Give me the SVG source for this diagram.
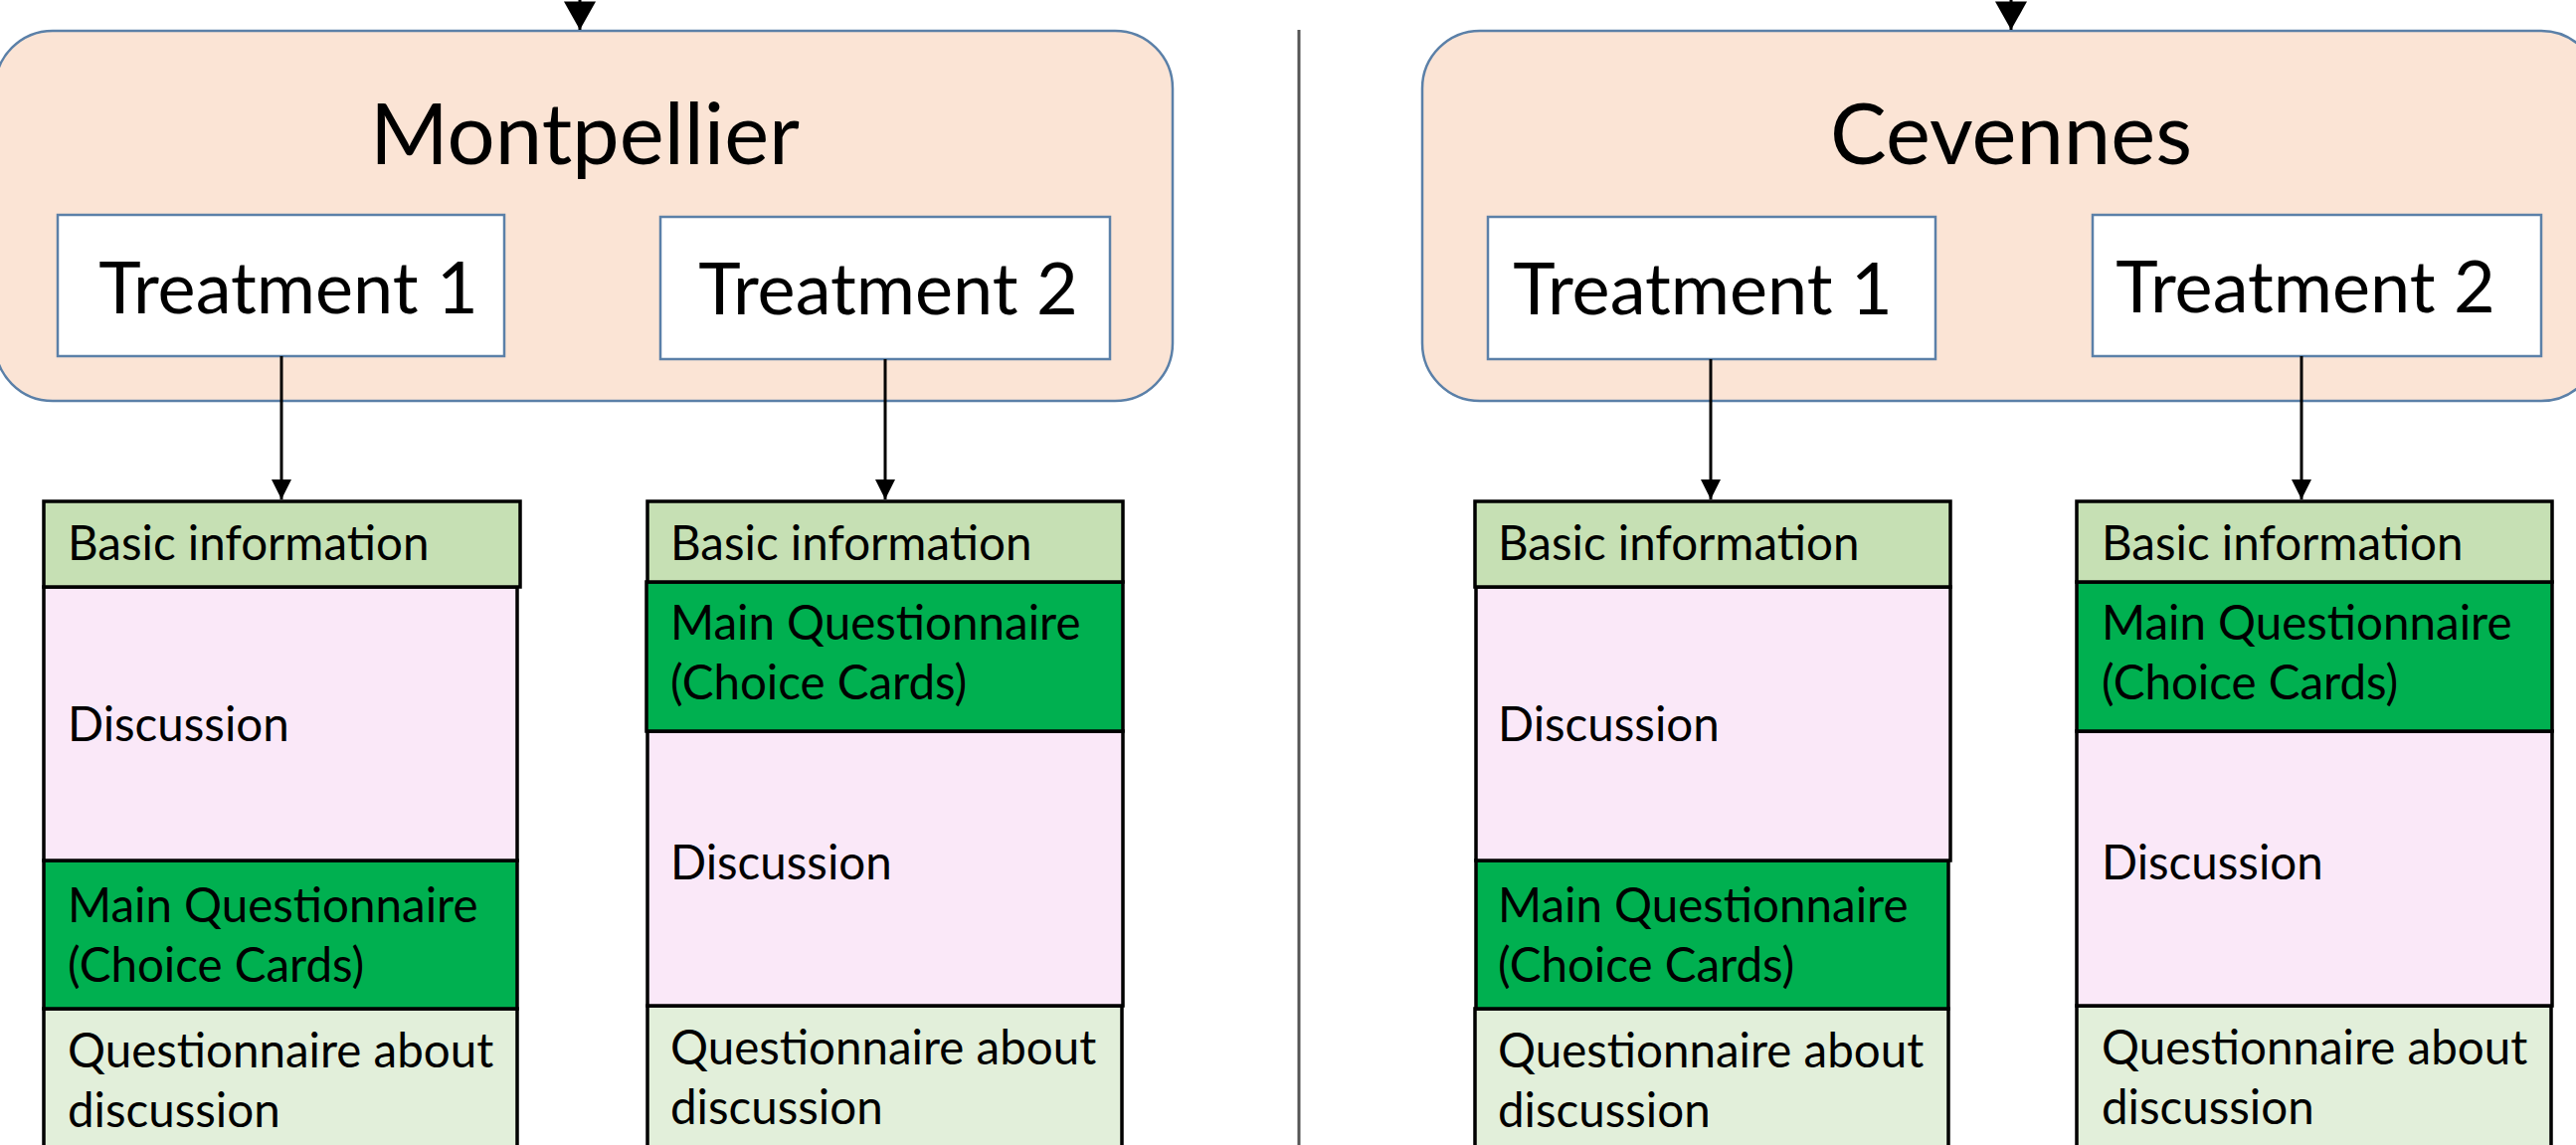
<svg xmlns="http://www.w3.org/2000/svg" width="2590" height="1151" viewBox="0 0 2590 1151">
<defs>
<style>
.site{fill:#FBE4D5;stroke:#5B80A8;stroke-width:2.5}
.treat{fill:#FFFFFF;stroke:#5B80A8;stroke-width:2.5}
.big{font-family:Lato,"Liberation Sans",sans-serif;font-size:85px;fill:#000;text-anchor:middle}
.tt{font-family:Lato,"Liberation Sans",sans-serif;font-size:72px;fill:#000;text-anchor:middle}
.sec{stroke:#000;stroke-width:3.5}
.basic{fill:#C6E0B4}
.disc{fill:#FAE8F8}
.mainq{fill:#00B050}
.qa{fill:#E2EFDA}
.lbl{font-family:Lato,"Liberation Sans",sans-serif;font-size:47.5px;fill:#000}
.conn{stroke:#000;stroke-width:3;fill:none}
.div{stroke:#555;stroke-width:3}
</style>
<marker id="ah" markerUnits="userSpaceOnUse" markerWidth="20" markerHeight="20" viewBox="0 0 20 20" refX="20" refY="10" orient="auto">
<path d="M0,0 L20,10 L0,20 Z" fill="#000"/>
</marker>
<marker id="bh" markerUnits="userSpaceOnUse" markerWidth="36" markerHeight="32" viewBox="0 0 32 36" refX="32" refY="18" orient="auto">
<path d="M0,0 L32,18 L0,36 Z" fill="#000"/>
</marker>
</defs>

<line class="div" x1="1306" y1="30" x2="1306" y2="1151"/>

<g id="montpellier">
<rect class="site" x="-5" y="31" width="1184" height="372" rx="58" ry="58"/>
<text class="big" x="588" y="165">Montpellier</text>
</g>
<g id="mont-treatment1">
<rect class="treat" x="58" y="216" width="449" height="142"/>
<text class="tt" x="290" y="315">Treatment 1</text>
</g>
<g id="mont-treatment2">
<rect class="treat" x="664" y="218" width="452" height="143"/>
<text class="tt" x="893" y="316">Treatment 2</text>
</g>

<g id="cevennes">
<rect class="site" x="1430" y="31" width="1183" height="372" rx="58" ry="58"/>
<text class="big" x="2022" y="165">Cevennes</text>
</g>
<g id="cev-treatment1">
<rect class="treat" x="1496" y="218" width="450" height="143"/>
<text class="tt" x="1712" y="316">Treatment 1</text>
</g>
<g id="cev-treatment2">
<rect class="treat" x="2104" y="216" width="451" height="142"/>
<text class="tt" x="2318" y="314">Treatment 2</text>
</g>

<g id="col1">
<rect class="sec qa" x="44" y="1014" width="476" height="160"/>
<rect class="sec mainq" x="44" y="865" width="476" height="149"/>
<rect class="sec disc" x="44" y="590" width="476" height="275"/>
<rect class="sec basic" x="44" y="504" width="479" height="86"/>
<text class="lbl" x="68" y="563">Basic information</text>
<text class="lbl" x="68" y="745">Discussion</text>
<text class="lbl" x="68" y="927">Main Questionnaire</text>
<text class="lbl" x="68" y="987">(Choice Cards)</text>
<text class="lbl" x="68" y="1073">Questionnaire about</text>
<text class="lbl" x="68" y="1133">discussion</text>
</g>

<g id="col2">
<rect class="sec qa" x="651" y="1011" width="477" height="160"/>
<rect class="sec disc" x="651" y="735" width="478" height="276"/>
<rect class="sec mainq" x="650" y="585" width="479" height="150"/>
<rect class="sec basic" x="651" y="504" width="478" height="81"/>
<text class="lbl" x="674" y="563">Basic information</text>
<text class="lbl" x="674" y="643">Main Questionnaire</text>
<text class="lbl" x="674" y="703">(Choice Cards)</text>
<text class="lbl" x="674" y="884">Discussion</text>
<text class="lbl" x="674" y="1070">Questionnaire about</text>
<text class="lbl" x="674" y="1130">discussion</text>
</g>

<g id="col3">
<rect class="sec qa" x="1483" y="1014" width="476" height="160"/>
<rect class="sec mainq" x="1484" y="865" width="475" height="149"/>
<rect class="sec disc" x="1484" y="590" width="477" height="275"/>
<rect class="sec basic" x="1483" y="504" width="478" height="86"/>
<text class="lbl" x="1506" y="563">Basic information</text>
<text class="lbl" x="1506" y="745">Discussion</text>
<text class="lbl" x="1506" y="927">Main Questionnaire</text>
<text class="lbl" x="1506" y="987">(Choice Cards)</text>
<text class="lbl" x="1506" y="1073">Questionnaire about</text>
<text class="lbl" x="1506" y="1133">discussion</text>
</g>

<g id="col4">
<rect class="sec qa" x="2088" y="1011" width="477" height="160"/>
<rect class="sec disc" x="2088" y="735" width="478" height="276"/>
<rect class="sec mainq" x="2088" y="585" width="478" height="150"/>
<rect class="sec basic" x="2088" y="504" width="478" height="81"/>
<text class="lbl" x="2113" y="563">Basic information</text>
<text class="lbl" x="2113" y="643">Main Questionnaire</text>
<text class="lbl" x="2113" y="703">(Choice Cards)</text>
<text class="lbl" x="2113" y="884">Discussion</text>
<text class="lbl" x="2113" y="1070">Questionnaire about</text>
<text class="lbl" x="2113" y="1130">discussion</text>
</g>

<g id="connectors">
<line class="conn" x1="583" y1="-10" x2="583" y2="30" marker-end="url(#bh)"/>
<line class="conn" x1="2022" y1="-10" x2="2022" y2="30" marker-end="url(#bh)"/>
<line class="conn" x1="283" y1="358" x2="283" y2="502" marker-end="url(#ah)"/>
<line class="conn" x1="890" y1="361" x2="890" y2="502" marker-end="url(#ah)"/>
<line class="conn" x1="1720" y1="361" x2="1720" y2="502" marker-end="url(#ah)"/>
<line class="conn" x1="2314" y1="358" x2="2314" y2="502" marker-end="url(#ah)"/>
</g>
</svg>
